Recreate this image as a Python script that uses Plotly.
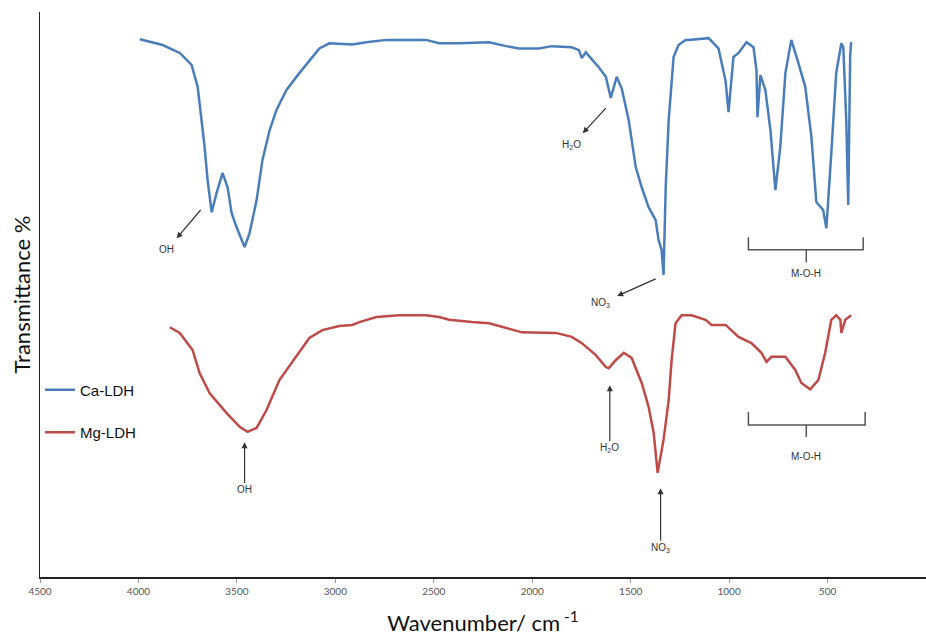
import plotly.graph_objects as go

# Ca-LDH (blue) spectrum: wavenumber (cm-1) and transmittance (arbitrary %)
ca_wn = [3993, 3877, 3790, 3730, 3699, 3679, 3664, 3649, 3628, 3603, 3573, 3547, 3527, 3502,
         3461, 3436, 3400, 3370, 3334, 3299, 3248, 3182, 3116, 3081, 3030, 2914, 2843, 2741,
         2539, 2473, 2371, 2219, 2133, 2067, 1966, 1900, 1799, 1763, 1748, 1728, 1662, 1626,
         1601, 1571, 1545, 1510, 1474, 1444, 1409, 1373, 1358, 1343, 1333, 1322, 1307, 1282,
         1257, 1221, 1206, 1104, 1054, 1018, 1003, 978, 952, 912, 876, 861, 856, 841, 816, 790,
         765, 740, 714, 684, 648, 613, 582, 557, 522, 506, 481, 456, 430, 420, 405, 395, 385, 380]
ca_t = [94.5, 93.5, 92.1, 90.0, 86.1, 80.3, 75.6, 69.8, 64.1, 67.5, 71.0, 68.5, 64.0, 61.5,
        58.0, 60.4, 66.2, 73.3, 78.5, 82.1, 85.6, 88.6, 91.4, 92.9, 93.8, 93.6, 94.0, 94.4,
        94.4, 93.8, 93.8, 94.0, 93.3, 92.9, 92.9, 93.3, 93.1, 92.6, 91.2, 92.2, 89.6, 87.9,
        84.2, 87.9, 85.8, 80.3, 72.0, 68.5, 65.0, 62.7, 59.2, 57.5, 53.1, 68.5, 80.3, 91.4,
        93.5, 94.4, 94.4, 94.7, 92.9, 87.2, 81.7, 91.4, 92.1, 94.0, 93.1, 89.1, 80.8, 88.2,
        85.6, 78.5, 68.0, 75.6, 88.6, 94.4, 90.3, 86.1, 77.3, 65.9, 64.5, 61.3, 74.5, 88.6,
        93.8, 93.1, 80.3, 65.4, 91.8, 94.0]

# Mg-LDH (red) spectrum
mg_wn = [3841, 3790, 3725, 3689, 3638, 3552, 3486, 3446, 3400, 3350, 3284, 3198, 3132, 3066,
         2980, 2914, 2878, 2792, 2676, 2539, 2473, 2422, 2371, 2306, 2219, 2052, 1880, 1799,
         1748, 1677, 1626, 1611, 1576, 1535, 1495, 1444, 1409, 1383, 1363, 1333, 1307, 1292,
         1272, 1241, 1191, 1120, 1089, 1018, 952, 887, 836, 810, 785, 714, 664, 633, 588, 547,
         512, 481, 456, 435, 430, 410, 380]
mg_t = [43.9, 42.9, 39.9, 35.8, 32.3, 28.8, 26.4, 25.5, 26.2, 29.3, 34.6, 38.7, 42.0, 43.4,
        44.1, 44.3, 44.8, 45.7, 46.0, 46.0, 45.7, 45.2, 45.0, 44.8, 44.6, 43.0, 42.9, 42.2,
        41.1, 39.0, 36.9, 36.7, 38.1, 39.4, 38.5, 34.1, 29.9, 25.3, 18.3, 24.1, 31.1, 38.1,
        44.6, 46.0, 46.0, 45.2, 44.3, 44.3, 42.2, 41.1, 39.4, 37.8, 38.7, 38.7, 36.4, 34.1,
        33.0, 34.6, 39.4, 45.2, 46.0, 45.2, 42.9, 45.2, 46.0]

series_names = ["Ca-LDH", "Mg-LDH"]
series_colors = ["#4A7EBB", "#BE4B48"]

x_ticks = [4500, 4000, 3500, 3000, 2500, 2000, 1500, 1000, 500, 0]

# Blue labels: arrow points from the peak toward the label
# (label, text_x, text_y, peak_end_x, peak_end_y)
ca_labels = [
    ("OH", 3856, 57.5, 3684, 64.5),
    ("H<sub>2</sub>O", 1799, 75.9, 1626, 82.4),
    ("NO<sub>3</sub>", 1652, 48.1, 1373, 52.4),
]
# Red labels: arrow points from the label up to the peak
# (label, text_x, text_y, head_x, head_y)
mg_labels = [
    ("OH", 3461, 15.3, 3461, 23.7),
    ("H<sub>2</sub>O", 1606, 22.6, 1606, 33.7),
    ("NO<sub>3</sub>", 1348, 5.1, 1348, 15.6),
]
# Braces: (x_left, x_right, x_mid, y_top, y_bar, y_tip, label_y)
braces = [
    (902, 319, 608, 59.7, 57.5, 55.3, 53.4),
    (902, 309, 608, 29.0, 26.7, 24.6, 21.1),
]

fig = go.Figure()
for name, wn, t, col in zip(series_names, [ca_wn, mg_wn], [ca_t, mg_t], series_colors):
    fig.add_trace(go.Scatter(x=wn, y=t, mode="lines", name=name, legendgroup=name,
                             line=dict(color=col, width=2.5)))

ann_color = "#333333"
ann_font = dict(family="Arial", size=10, color=ann_color)
for lab, tx, ty, px, py in ca_labels:
    fig.add_annotation(x=px, y=py, ax=tx, ay=ty, axref="x", ayref="y", xref="x", yref="y",
                       text=lab, showarrow=True, arrowside="start", startarrowhead=2,
                       startarrowsize=1, arrowwidth=1.2, arrowcolor=ann_color,
                       startstandoff=6, font=ann_font)
for lab, tx, ty, hx, hy in mg_labels:
    fig.add_annotation(x=hx, y=hy, ax=tx, ay=ty, axref="x", ayref="y", xref="x", yref="y",
                       text=lab, showarrow=True, arrowhead=2, arrowsize=1, arrowwidth=1.2,
                       arrowcolor=ann_color, font=ann_font)

for xl, xr, xm, yt, yb, ytip, ly in braces:
    path = (f"M {xl},{yt} L {xl},{yb} L {xr},{yb} L {xr},{yt} "
            f"M {xm},{yb} L {xm},{ytip}")
    fig.add_shape(type="path", path=path, xref="x", yref="y",
                  line=dict(color="#555555", width=1.5))
    fig.add_annotation(x=xm, y=ly, xref="x", yref="y", text="M-O-H", showarrow=False,
                       font=ann_font)

fig.update_layout(
    width=926, height=639,
    margin=dict(l=40, r=0, t=12, b=62),
    paper_bgcolor="white", plot_bgcolor="white",
    showlegend=True,
    legend=dict(x=0.0, y=0.36, xanchor="left", yanchor="top", itemwidth=30,
                font=dict(family="Arial", size=15, color="#111111"),
                tracegroupgap=20, bgcolor="rgba(0,0,0,0)"),
    xaxis=dict(range=[4500, 0], tickvals=x_ticks, ticks="outside", ticklen=4,
               tickcolor="#999999", showgrid=False, zeroline=False,
               showline=True, linecolor="#222222", linewidth=1.6,
               tickfont=dict(family="Lato", size=10, color="#555555"),
               title=dict(text="Wavenumber/ cm<sup> -1</sup>",
                          font=dict(family="Lato", size=22, color="#111111"), standoff=20)),
    yaxis=dict(range=[0, 99.3], showticklabels=False, ticks="", showgrid=False,
               zeroline=False, showline=True, linecolor="#222222", linewidth=1.2,
               title=dict(text="Transmittance %",
                          font=dict(family="Lato", size=22, color="#111111"), standoff=2)),
)

fig.write_html("out.html")
